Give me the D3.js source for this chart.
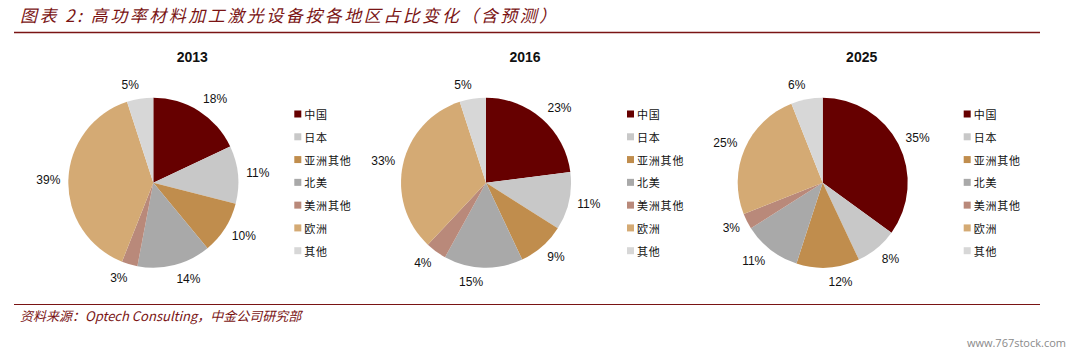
<!DOCTYPE html>
<html>
<head>
<meta charset="utf-8">
<script src="https://cdn.jsdelivr.net/npm/d3@7"></script>
<style>
  body { margin: 0; background: #fff; }
  svg { display: block; }
</style>
</head>
<body>
<div id="chart"></div>
<script>
// Data
const regions = ['中国', '日本', '亚洲其他', '北美', '美洲其他', '欧洲', '其他'];
const region_colors = ['#660000', '#c8c8c8', '#c08d4d', '#a9a9a9', '#b9897a', '#d4aa74', '#d7d7d7'];
const years = ['2013', '2016', '2025'];
const share_2013 = [18, 11, 10, 14, 3, 39, 5];
const share_2016 = [23, 11, 9, 15, 4, 33, 5];
const share_2025 = [35, 8, 12, 11, 3, 25, 6];
const shares = [share_2013, share_2016, share_2025];

const title_text = '图表 2: 高功率材料加工激光设备按各地区占比变化（含预测）';
const source_text = '资料来源：Optech Consulting，中金公司研究部';

const chart_width = 1076;
const chart_height = 353;
const dark_red = '#7a1414';
const radius = 85;
const pie_y = 182.7;
const pie_x = [153.3, 486, 822.7];

const svg = d3.select('#chart')
    .append('svg')
    .attr('width', chart_width)
    .attr('height', chart_height);

// Header
svg.append('text')
    .attr('x', 20)
    .attr('y', 22)
    .attr('fill', dark_red)
    .attr('font-family', '"Noto Sans CJK SC", sans-serif')
    .attr('font-style', 'italic')
    .attr('font-size', 17)
    .attr('letter-spacing', 2.5)
    .text(title_text);

svg.append('line')
    .attr('x1', 14).attr('x2', 1040)
    .attr('y1', 32.5).attr('y2', 32.5)
    .attr('stroke', dark_red)
    .attr('stroke-width', 1.5);

// Footer
svg.append('line')
    .attr('x1', 14).attr('x2', 1040)
    .attr('y1', 304.5).attr('y2', 304.5)
    .attr('stroke', dark_red)
    .attr('stroke-width', 1.2);

svg.append('text')
    .attr('x', 20)
    .attr('y', 321)
    .attr('fill', dark_red)
    .attr('font-family', '"Noto Sans CJK SC", sans-serif')
    .attr('font-style', 'italic')
    .attr('font-size', 13)
    .text(source_text);

svg.append('text')
    .attr('x', 1066)
    .attr('y', 347)
    .attr('text-anchor', 'end')
    .attr('fill', '#8a8a8a')
    .attr('font-family', '"Open Sans", sans-serif')
    .attr('font-size', 11)
    .text('www.767stock.com');

// Pies
const pie = d3.pie().sort(null).value(d => d);
const arc = d3.arc().innerRadius(0).outerRadius(radius);
const color = d3.scaleOrdinal().domain(regions).range(region_colors);

const legend_y = d3.scalePoint()
    .domain(regions)
    .range([114, 250.7]);

years.forEach((year, i) => {
    const g = svg.append('g')
        .attr('transform', `translate(${pie_x[i]}, ${pie_y})`);

    g.append('text')
        .attr('x', 39)
        .attr('y', -121)
        .attr('text-anchor', 'middle')
        .attr('font-family', '"Liberation Sans", Arial, sans-serif')
        .attr('font-weight', 'bold')
        .attr('font-size', 14)
        .attr('fill', '#111')
        .text(year);

    const arcs = pie(shares[i]);

    g.selectAll('path')
        .data(arcs)
        .enter()
        .append('path')
        .attr('d', arc)
        .attr('fill', (d, k) => color(regions[k]));

    // labels sit just outside the rim, box pushed away sideways
    g.selectAll('text.label')
        .data(arcs)
        .enter()
        .append('text')
        .classed('label', true)
        .attr('font-family', '"Liberation Sans", Arial, sans-serif')
        .attr('font-size', 12)
        .attr('fill', '#111')
        .attr('text-anchor', 'middle')
        .attr('dominant-baseline', 'central')
        .attr('transform', d => {
            const a = (d.startAngle + d.endAngle) / 2;
            const w = String(d.value).length > 1 ? 24 : 17;
            const dist = radius + 8;
            const x = Math.sin(a) * dist + Math.sign(Math.sin(a)) * w / 2;
            const y = -Math.cos(a) * dist - Math.cos(a) * 6;
            return `translate(${x}, ${y})`;
        })
        .text(d => d.value + '%');

    // Legend
    const legend = g.append('g')
        .attr('transform', `translate(${141}, ${-pie_y})`);

    const items = legend.selectAll('g')
        .data(regions)
        .enter()
        .append('g')
        .attr('transform', d => `translate(0, ${legend_y(d)})`);

    items.append('rect')
        .attr('x', 0)
        .attr('y', -3.5)
        .attr('width', 7)
        .attr('height', 7)
        .attr('fill', d => color(d));

    items.append('text')
        .attr('x', 10)
        .attr('y', 0)
        .attr('dominant-baseline', 'central')
        .attr('font-family', '"Noto Sans CJK SC", sans-serif')
        .attr('font-size', 11)
        .attr('letter-spacing', 0.8)
        .attr('fill', '#111')
        .text(d => d);
});
</script>
</body>
</html>
